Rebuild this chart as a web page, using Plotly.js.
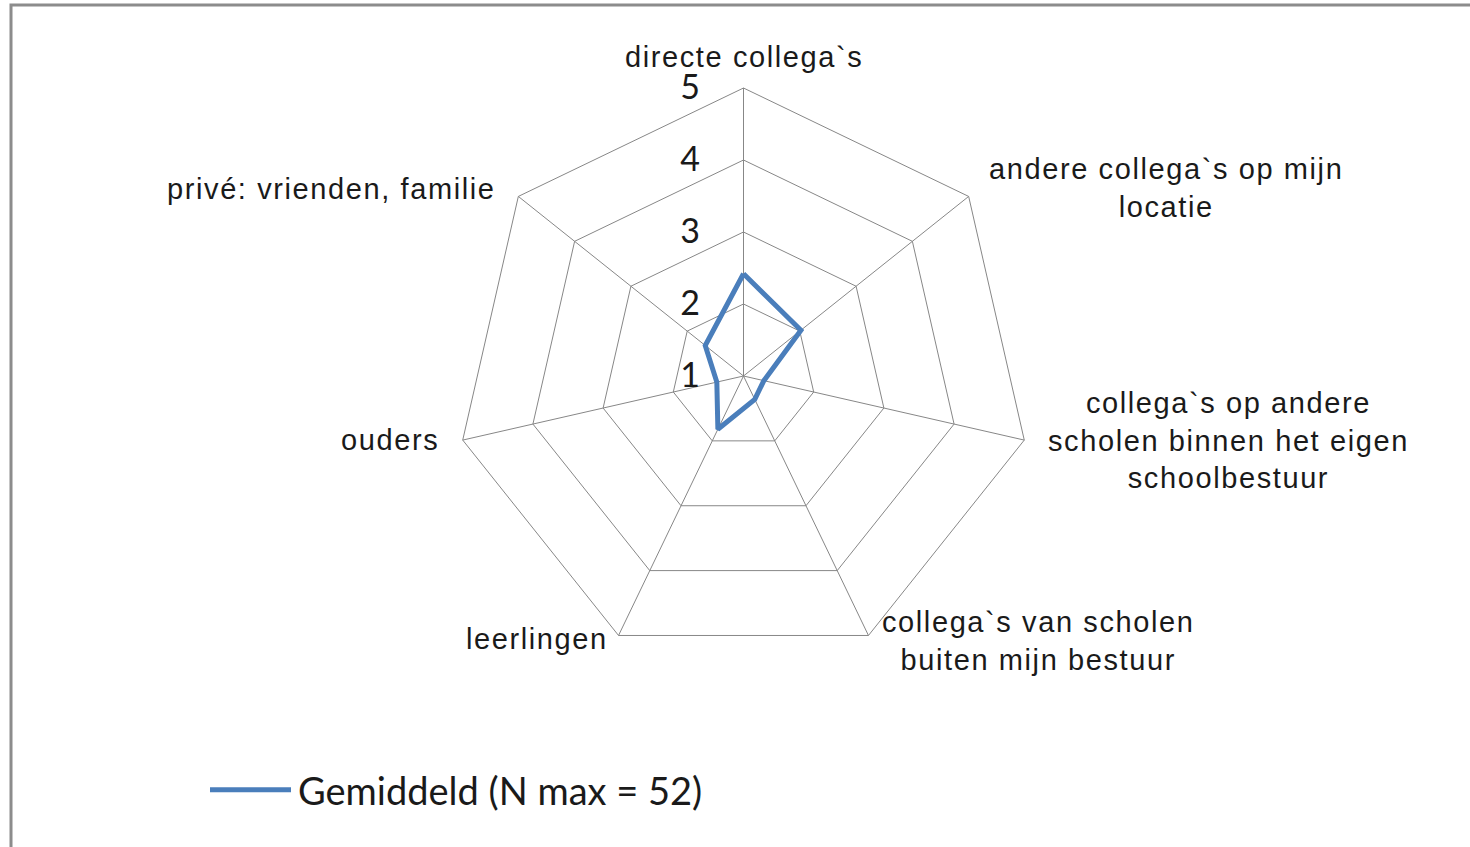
<!DOCTYPE html>
<html>
<head>
<meta charset="utf-8">
<script src="https://cdn.plot.ly/plotly-3.0.1.min.js"></script>
<style>
  html, body { margin: 0; padding: 0; background: #fff; }
  #chart { width: 1470px; height: 847px; }
  .annotation-text { letter-spacing: 1.6px; }
</style>
</head>
<body>
<div id="chart"></div>
<script>
// ---- data ----
var categories = [
  "directe collega`s",
  "andere collega`s op mijn locatie",
  "collega`s op andere scholen binnen het eigen schoolbestuur",
  "collega`s van scholen buiten mijn bestuur",
  "leerlingen",
  "ouders",
  "privé: vrienden, familie"
];
var categoryLabels = [
  "directe collega`s",
  "andere collega`s op mijn<br>locatie",
  "collega`s op andere<br>scholen binnen het eigen<br>schoolbestuur",
  "collega`s van scholen<br>buiten mijn bestuur",
  "leerlingen",
  "ouders",
  "privé: vrienden, familie"
];
var gemiddeld = [2.42, 2.02, 1.29, 1.36, 1.82, 1.38, 1.68];
var seriesName = "Gemiddeld (N max = 52)";
var radialTicks = [1, 2, 3, 4, 5];

// ---- geometry / styling (not data) ----
var W = 1470, H = 847;
var cx = 743.5, cy = 376, R = 288;
var rMin = 1, rMax = 5;
// where each category label sits relative to the outer vertex of its spoke (pixels)
var labelPlacement = [
  { xanchor: 'center', dx: 0,   dy: 31 },
  { xanchor: 'left',   dx: 18,  dy: 8 },
  { xanchor: 'left',   dx: 22,  dy: 0 },
  { xanchor: 'left',   dx: 12,  dy: -6 },
  { xanchor: 'right',  dx: -9,  dy: -4 },
  { xanchor: 'right',  dx: -22, dy: 0 },
  { xanchor: 'right',  dx: -20, dy: 7 }
];

// closed loop for the radar line
var thetaClosed = categories.concat([categories[0]]);
var rClosed = gemiddeld.concat([gemiddeld[0]]);

var trace = {
  type: 'scatterpolar',
  mode: 'lines',
  theta: thetaClosed,
  r: rClosed,
  name: seriesName,
  line: { color: '#4a7ebb', width: 5 },
  hoverinfo: 'skip'
};

// category labels anchored at the outer end of each spoke (angle from category index)
var n = categories.length;
var annotations = categoryLabels.map(function (lbl, i) {
  var a = 2 * Math.PI * i / n;
  var vx = cx + R * Math.sin(a);
  var vy = cy - R * Math.cos(a);
  var p = labelPlacement[i];
  return {
    xref: 'paper', yref: 'paper',
    x: vx / W, y: 1 - vy / H,
    xanchor: p.xanchor, yanchor: 'middle',
    xshift: p.dx, yshift: p.dy,
    text: lbl, align: 'center', showarrow: false,
    font: { family: 'Liberation Sans, Arial, sans-serif', size: 29, color: '#1a1a1a' }
  };
});

var layout = {
  width: W, height: H,
  margin: { l: 0, r: 0, t: 0, b: 0 },
  paper_bgcolor: '#ffffff',
  showlegend: true,
  legend: {
    x: 205 / W, xanchor: 'left',
    y: 1 - 790 / H, yanchor: 'middle',
    orientation: 'h',
    itemwidth: 83,
    font: { family: 'Lato, Carlito, sans-serif', size: 38, color: '#1a1a1a' },
    bgcolor: 'rgba(0,0,0,0)', borderwidth: 0
  },
  polar: {
    domain: { x: [(cx - R) / W, (cx + R) / W], y: [1 - (cy + R) / H, 1 - (cy - R) / H] },
    bgcolor: '#ffffff',
    gridshape: 'linear',
    angularaxis: {
      type: 'category',
      categoryorder: 'array',
      categoryarray: categories,
      rotation: 90,
      direction: 'clockwise',
      showline: true,
      linecolor: '#878787',
      linewidth: 1,
      gridcolor: '#878787',
      gridwidth: 1,
      ticks: '',
      showticklabels: false
    },
    radialaxis: {
      range: [rMin, rMax],
      angle: 90,
      side: 'counterclockwise',
      tickmode: 'array',
      tickvals: radialTicks,
      ticktext: radialTicks.map(String),
      tickangle: 90,
      showline: false,
      gridcolor: '#878787',
      gridwidth: 1,
      ticks: 'outside',
      ticklen: 31,
      tickcolor: 'rgba(0,0,0,0)',
      tickfont: { family: 'Lato, Carlito, sans-serif', size: 34, color: '#1a1a1a' }
    }
  },
  annotations: annotations,
  shapes: [{
    type: 'path',
    xref: 'paper', yref: 'paper',
    path: 'M ' + (11 / W) + ',0 L ' + (11 / W) + ',' + (1 - 5 / H) + ' L 1,' + (1 - 5 / H),
    line: { color: '#8c8c8c', width: 3 }
  }]
};

Plotly.newPlot('chart', [trace], layout, { displayModeBar: false, staticPlot: true }).then(function () {
  // lengthen the legend line sample to match the reference key
  var paths = document.querySelectorAll('.legend .legendlines path');
  paths.forEach(function (p) { p.setAttribute('d', 'M5,0h81'); });
});
</script>
</body>
</html>
